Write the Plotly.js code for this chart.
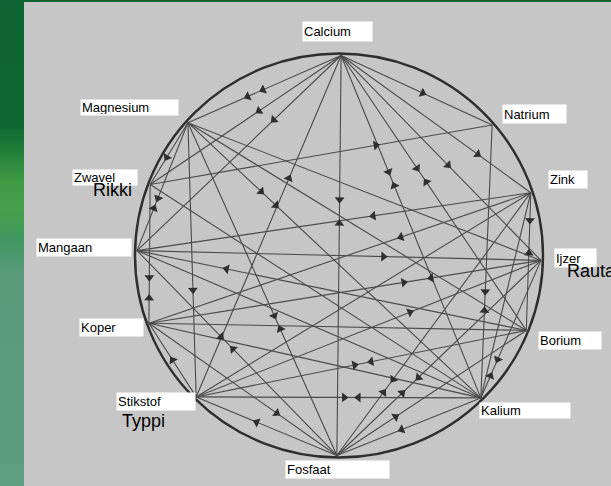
<!DOCTYPE html>
<html><head><meta charset="utf-8">
<script src="https://cdn.plot.ly/plotly-3.0.1.min.js"></script>
<style>
html,body{margin:0;padding:0;overflow:hidden;}
body{background:linear-gradient(to bottom,#0d6331 0px,#0f6833 125px,#1f7d38 150px,#3f9a44 180px,#46a04c 210px,#3f9760 240px,#5a9b7c 275px,#5d9d80 486px);}
#chart{width:611px;height:486px;}
</style>
</head><body><div id="chart"></div>
<script>
// ---- data ----
const nodeNames  = ['Calcium','Natrium','Zink','Ijzer','Borium','Kalium','Fosfaat','Stikstof','Koper','Mangaan','Zwavel','Magnesium'];
const nodeAngles = [89.4, 40.7, 18.3, -1.4, -22, -45.4, -90.6, -135, 199.8, 178.6, 159.2, 138.4];

const edgeFrom = ['Calcium','Calcium','Calcium','Calcium','Calcium','Calcium','Calcium','Calcium','Calcium','Calcium',
                  'Magnesium','Magnesium','Magnesium','Magnesium','Magnesium','Magnesium','Magnesium',
                  'Zwavel','Zwavel','Zwavel',
                  'Mangaan','Mangaan','Mangaan','Mangaan','Mangaan',
                  'Koper','Koper','Koper','Koper','Koper','Koper',
                  'Stikstof','Stikstof','Stikstof','Stikstof','Stikstof',
                  'Fosfaat','Fosfaat','Fosfaat','Fosfaat',
                  'Kalium','Kalium','Kalium',
                  'Zink'];
const edgeTo   = ['Magnesium','Zwavel','Mangaan','Stikstof','Fosfaat','Kalium','Borium','Ijzer','Zink','Natrium',
                  'Zwavel','Mangaan','Stikstof','Fosfaat','Kalium','Borium','Ijzer',
                  'Natrium','Koper','Kalium',
                  'Zink','Ijzer','Borium','Kalium','Fosfaat',
                  'Stikstof','Fosfaat','Ijzer','Zink','Borium','Kalium',
                  'Kalium','Fosfaat','Borium','Ijzer','Zink',
                  'Zink','Ijzer','Borium','Kalium',
                  'Natrium','Ijzer','Zink',
                  'Borium'];

// arrow heads: edge (from,to), fraction along edge, direction (+1 toward "to", -1 toward "from")
const arrowFrom = ['Calcium','Calcium','Calcium','Calcium','Calcium','Calcium','Calcium','Calcium','Calcium','Calcium','Calcium','Calcium','Calcium','Calcium',
                   'Magnesium','Magnesium','Magnesium','Magnesium','Magnesium','Magnesium','Magnesium','Magnesium',
                   'Zwavel','Zwavel','Zwavel',
                   'Mangaan','Mangaan','Mangaan','Mangaan','Mangaan',
                   'Koper','Koper','Koper','Koper','Koper',
                   'Stikstof','Stikstof','Stikstof','Stikstof','Stikstof','Stikstof',
                   'Fosfaat','Fosfaat','Fosfaat','Fosfaat','Fosfaat','Fosfaat',
                   'Kalium','Kalium','Kalium','Kalium',
                   'Zink','Zink'];
const arrowTo   = ['Magnesium','Magnesium','Zwavel','Mangaan','Stikstof','Fosfaat','Fosfaat','Kalium','Kalium','Borium','Borium','Ijzer','Zink','Natrium',
                   'Zwavel','Mangaan','Mangaan','Stikstof','Fosfaat','Fosfaat','Kalium','Kalium',
                   'Natrium','Koper','Koper',
                   'Zink','Ijzer','Borium','Fosfaat','Fosfaat',
                   'Stikstof','Fosfaat','Ijzer','Ijzer','Zink',
                   'Kalium','Kalium','Fosfaat','Borium','Borium','Ijzer',
                   'Zink','Zink','Ijzer','Ijzer','Borium','Kalium',
                   'Natrium','Natrium','Ijzer','Ijzer',
                   'Borium','Borium'];
const arrowT    = [0.51,0.61,0.43,0.33,0.36,0.36,0.42,0.34,0.38,0.41,0.46,0.535,0.72,0.54,
                   0.56,0.59,0.67,0.61,0.58,0.62,0.25,0.30,
                   0.66,0.67,0.82,
                   0.60,0.61,0.23,0.42,0.48,
                   0.50,0.68,0.65,0.72,0.66,
                   0.52,0.57,0.43,0.48,0.53,0.62,
                   0.24,0.29,0.32,0.40,0.31,0.45,
                   0.32,0.39,0.16,0.28,
                   0.20,0.44];
const arrowDir  = [1,1,1,1,-1,1,-1,1,-1,1,-1,1,1,1,
                   1,1,-1,1,1,-1,1,1,
                   1,1,-1,
                   -1,1,-1,1,-1,
                   -1,1,1,-1,-1,
                   1,-1,-1,1,-1,1,
                   1,-1,1,-1,1,-1,
                   1,-1,1,-1,
                   1,-1];

// overlay translations
const extraNames = ['Rikki','Typpi','Rauta'];

// ---- geometry (layout) ----
const CX = 339, CY = 255.5, RX = 202, RY = 200;
const pos = {};
nodeNames.forEach((n,i)=>{
  const a = nodeAngles[i]*Math.PI/180;
  pos[n] = [CX + RX*Math.cos(a), CY - RY*Math.sin(a)];
});

const lx = [], ly = [];
edgeFrom.forEach((f,i)=>{
  const p = pos[f], q = pos[edgeTo[i]];
  lx.push(p[0], q[0], null); ly.push(p[1], q[1], null);
});

const ax = [], ay = [], aang = [];
arrowFrom.forEach((f,i)=>{
  const p = pos[f], q = pos[arrowTo[i]], t = arrowT[i];
  ax.push(p[0] + (q[0]-p[0])*t); ay.push(p[1] + (q[1]-p[1])*t);
  const dx = (q[0]-p[0])*arrowDir[i], dy = (q[1]-p[1])*arrowDir[i];
  aang.push(Math.atan2(dx, -dy)*180/Math.PI);
});

const traces = [
  {type:'scatter', mode:'lines', x:lx, y:ly, line:{color:'#4a4a4a', width:1.1}, hoverinfo:'skip', cliponaxis:false},
  {type:'scatter', mode:'markers', x:ax, y:ay, hoverinfo:'skip',
   marker:{symbol:'triangle-up', size:8.5, color:'#2f2f2f', angle:aang, line:{width:0}}}
];

// label boxes: [left, top, width, height]
const boxes = {
  'Calcium':[302,21,69,21], 'Natrium':[502,104,63,20], 'Zink':[548,170,38,19], 'Ijzer':[554,248,41,20],
  'Borium':[538,331,62,19], 'Kalium':[479,402,90,17], 'Fosfaat':[285,460,103,19], 'Stikstof':[116,392,78,19],
  'Koper':[79,318,63,19], 'Mangaan':[36,238,94,19], 'Zwavel':[72,169,64,17], 'Magnesium':[80,99,97,17]
};
const annotations = nodeNames.map(n=>{
  const b = boxes[n];
  return {xref:'x', yref:'y', x:b[0], y:b[1], xanchor:'left', yanchor:'top', text:n, showarrow:false,
          width:b[2]-2, height:b[3]-4, align:'left', valign:'middle', bgcolor:'#ffffff', borderpad:1,
          font:{family:'Liberation Sans, Arial, sans-serif', size:13, color:'#000'}};
});
const extraPos = [[92,190],[121,421],[566,271]];
extraNames.forEach((n,i)=>{
  annotations.push({xref:'x', yref:'y', x:extraPos[i][0], y:extraPos[i][1], xanchor:'left', yanchor:'middle',
    text:n, showarrow:false, borderpad:0, font:{family:'Liberation Sans, Arial, sans-serif', size:18, color:'#000'}});
});

const layout = {
  width:611, height:486,
  margin:{l:24, r:0, t:2, b:0},
  paper_bgcolor:'rgba(0,0,0,0)', plot_bgcolor:'#c6c6c6',
  showlegend:false,
  xaxis:{range:[24,611], visible:false, fixedrange:true},
  yaxis:{range:[486,2], visible:false, fixedrange:true},
  shapes:[{type:'circle', xref:'x', yref:'y', x0:CX-RX-2, x1:CX+RX+2, y0:CY-RY-2, y1:CY+RY+2,
           line:{color:'#2e2e2e', width:2.4}, layer:'above'}],
  annotations:annotations
};
Plotly.newPlot('chart', traces, layout, {displayModeBar:false, staticPlot:true});
</script>
</body></html>
